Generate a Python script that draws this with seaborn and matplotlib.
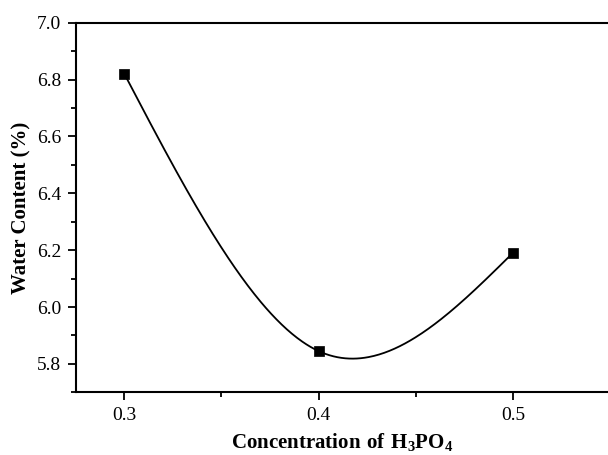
import numpy as np
import pandas as pd
import matplotlib
matplotlib.use("Agg")
import matplotlib.pyplot as plt
import seaborn as sns
from matplotlib.ticker import MultipleLocator

# Data
concentration = [0.3, 0.4, 0.5]
water_content = [6.82, 5.845, 6.19]
x_ticks = [0.3, 0.4, 0.5]
y_ticks = [5.8, 6.0, 6.2, 6.4, 6.6, 6.8, 7.0]


def natural_cubic_spline(xs, ys, n=300):
    xs = np.asarray(xs, float)
    ys = np.asarray(ys, float)
    k = len(xs)
    h = np.diff(xs)
    A = np.zeros((k, k))
    rhs = np.zeros(k)
    A[0, 0] = 1
    A[-1, -1] = 1
    for i in range(1, k - 1):
        A[i, i - 1] = h[i - 1]
        A[i, i] = 2 * (h[i - 1] + h[i])
        A[i, i + 1] = h[i]
        rhs[i] = 6 * ((ys[i + 1] - ys[i]) / h[i] - (ys[i] - ys[i - 1]) / h[i - 1])
    M = np.linalg.solve(A, rhs)
    xx = np.linspace(xs[0], xs[-1], n)
    yy = np.empty_like(xx)
    for j, x in enumerate(xx):
        i = min(np.searchsorted(xs, x, side="right") - 1, k - 2)
        hi = h[i]
        a = xs[i + 1] - x
        b = x - xs[i]
        yy[j] = (M[i] * a ** 3 / (6 * hi) + M[i + 1] * b ** 3 / (6 * hi)
                 + (ys[i] / hi - M[i] * hi / 6) * a
                 + (ys[i + 1] / hi - M[i + 1] * hi / 6) * b)
    return xx, yy


sns.set_style("ticks")
plt.rcParams["font.family"] = ["Liberation Serif", "DejaVu Serif"]
plt.rcParams["mathtext.fontset"] = "custom"
plt.rcParams["mathtext.rm"] = "Liberation Serif"
plt.rcParams["mathtext.bf"] = "Liberation Serif:bold"
plt.rcParams["text.color"] = "black"
plt.rcParams["axes.labelcolor"] = "black"
plt.rcParams["xtick.color"] = "black"
plt.rcParams["ytick.color"] = "black"

fig = plt.figure(figsize=(6.08, 4.55), dpi=100)
W, H = 608, 455
ax = fig.add_axes([76 / W, (H - 392.3) / H, (608 - 76) / W, (392.3 - 22.7) / H])

xx, yy = natural_cubic_spline(concentration, water_content)
curve = pd.DataFrame({"x": xx, "y": yy})
pts = pd.DataFrame({"x": concentration, "y": water_content})

sns.lineplot(data=curve, x="x", y="y", ax=ax, color="black", linewidth=1.3,
             sort=False, estimator=None)
sns.scatterplot(data=pts, x="x", y="y", ax=ax, marker="s", s=55,
                color="black", edgecolor="black", linewidth=0.5, zorder=5)

ax.set_xlim(0.2751, 0.549)
ax.set_ylim(5.7, 7.0)
ax.set_xticks(x_ticks)
ax.set_yticks(y_ticks)
ax.set_xticklabels([f"{v:.1f}" for v in x_ticks])
ax.set_yticklabels([f"{v:.1f}" for v in y_ticks])
ax.xaxis.set_minor_locator(MultipleLocator(0.05))
ax.yaxis.set_minor_locator(MultipleLocator(0.1))

ax.spines["right"].set_visible(False)
for s in ["left", "bottom", "top"]:
    ax.spines[s].set_linewidth(1.5)
    ax.spines[s].set_color("black")

ax.tick_params(axis="both", which="major", direction="out", length=5.5,
               width=1.3, labelsize=14, colors="black", labelcolor="black", pad=5)
ax.tick_params(axis="both", which="minor", direction="out", length=3.5,
               width=1.3, colors="black")
ax.tick_params(top=False, right=False, which="both")

ax.set_xlabel(r"$\mathbf{Concentration\ of\ H_3PO_4}$", fontsize=15,
              labelpad=5, color="black")
ax.set_ylabel("Water Content (%)", fontsize=15, fontweight="bold", labelpad=4,
              color="black")

fig.savefig("out.png", dpi=100)
